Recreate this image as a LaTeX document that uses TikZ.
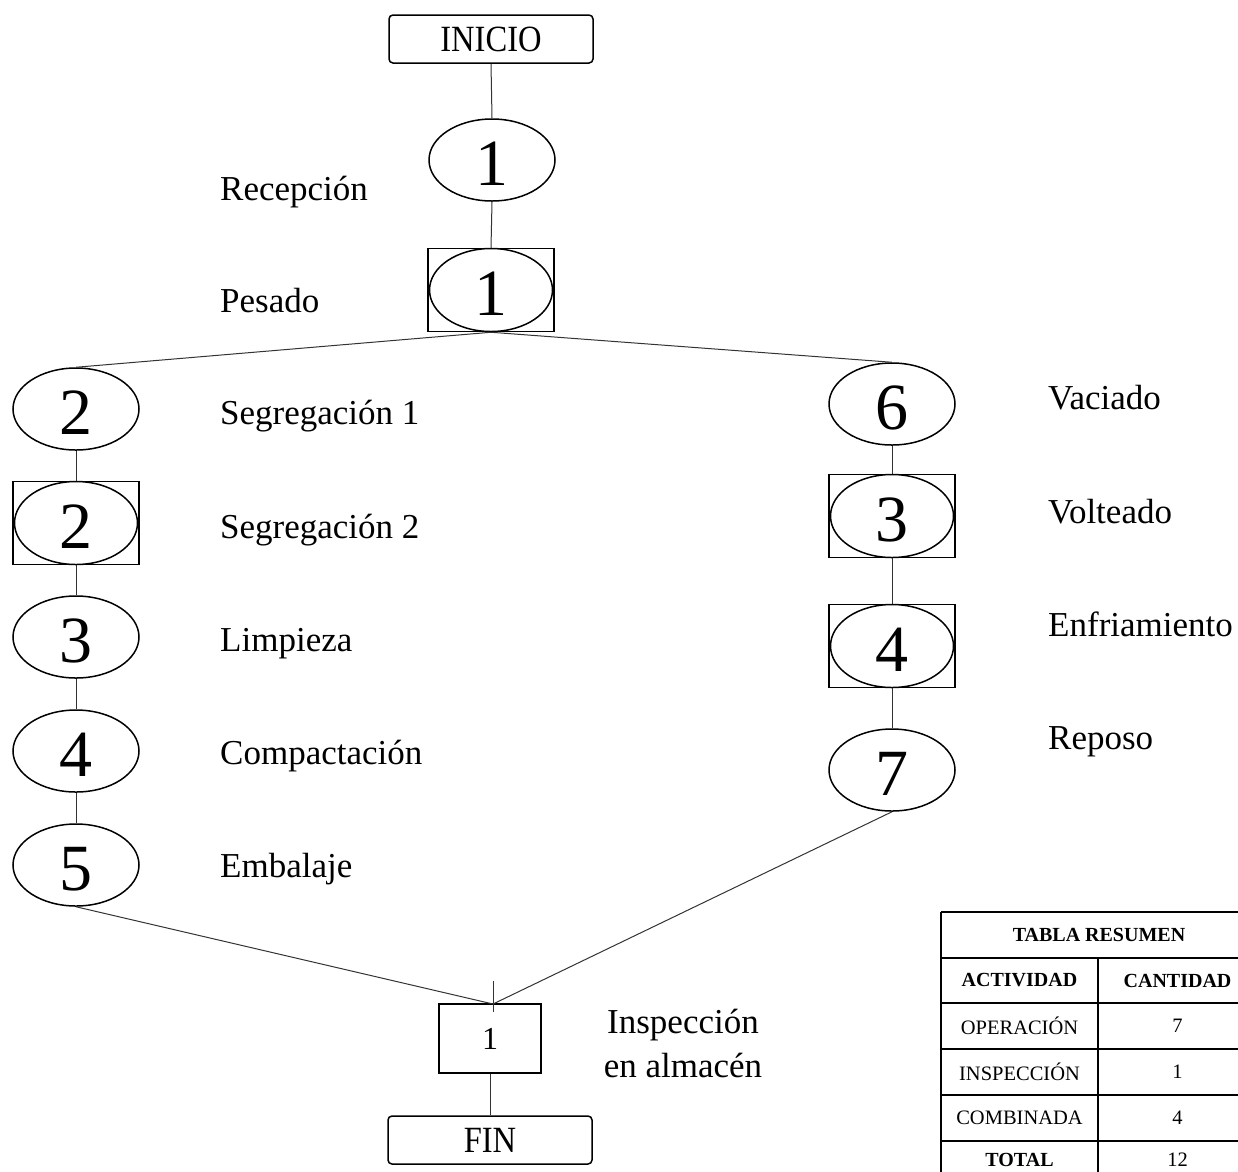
\documentclass[tikz,border=0pt]{standalone}
\usepackage{fontspec}
\setmainfont{Liberation Serif}
\usetikzlibrary{shapes.geometric}
\begin{document}
\begin{tikzpicture}[x=1pt,y=-1pt,
  shape line/.style={line width=1.5pt,draw=black},
  conn/.style={line width=1pt,draw=black!80},
  oper/.style={shape line,ellipse,minimum width=126pt,minimum height=82pt,inner sep=0pt,text height=51pt,text depth=0pt,font=\fontsize{66}{66}\selectfont},
  combobox/.style={shape line,rectangle,minimum width=126pt,minimum height=83pt,inner sep=0pt,text height=51pt,text depth=0pt,font=\fontsize{66}{66}\selectfont},
  comboell/.style={shape line,ellipse,minimum width=123pt,minimum height=83pt,inner sep=0pt},
  termbox/.style={shape line,rectangle,rounded corners=4pt,minimum width=204pt,minimum height=48pt,inner sep=0pt,font=\fontsize{37}{37}\selectfont},
  inspbox/.style={shape line,rectangle,minimum width=102pt,minimum height=69pt,inner sep=0pt,font=\fontsize{32}{32}\selectfont},
  lbl/.style={anchor=base west,inner sep=0pt,font=\fontsize{35}{35}\selectfont},
  tline/.style={line width=1.5pt},
  thead/.style={font=\fontsize{20}{20}\selectfont\bfseries,inner sep=0pt},
  tcell/.style={font=\fontsize{20.5}{20.5}\selectfont,inner sep=0pt}
]
\useasboundingbox (0,0) rectangle (1238,1171);
\clip (0,0) rectangle (1238,1171);

% terminals
\node[termbox] (ini) at (491,39) {\scalebox{0.88}[1]{INICIO}};
\node[termbox] (fin) at (490,1140) {\scalebox{0.88}[1]{FIN}};

% center column
\node[oper] (o1) at (492,160) {1};
\node[comboell] (c1e) at (491,290) {};
\node[combobox] (c1) at (491,290) {1};

% left column
\node[oper] (o2) at (76,409) {2};
\node[comboell] (c2e) at (76,523) {};
\node[combobox] (c2) at (76,523) {2};
\node[oper] (o3) at (76,637) {3};
\node[oper] (o4) at (76,751) {4};
\node[oper] (o5) at (76,865) {5};

% right column
\node[oper] (o6) at (892,404) {6};
\node[comboell] (c3e) at (892,516) {};
\node[combobox] (c3) at (892,516) {3};
\node[comboell] (c4e) at (892,646) {};
\node[combobox] (c4) at (892,646) {4};
\node[oper] (o7) at (892,770) {7};

% inspection
\node[inspbox] (i1) at (490,1038.5) {1};
\coordinate (J) at (493,1004);
\coordinate (tickA) at (493,981);
\coordinate (tickB) at (493,1012);

% connectors
\draw[conn] (ini.south) -- (o1.north);
\draw[conn] (o1.south) -- (c1.north);
\draw[conn] (c1.south) -- (o2.north);
\draw[conn] (c1.south) -- (o6.north);
\draw[conn] (o2.south) -- (c2.north);
\draw[conn] (c2.south) -- (o3.north);
\draw[conn] (o3.south) -- (o4.north);
\draw[conn] (o4.south) -- (o5.north);
\draw[conn] (o6.south) -- (c3.north);
\draw[conn] (c3.south) -- (c4.north);
\draw[conn] (c4.south) -- (o7.north);
\draw[conn] (o5.south) -- (J);
\draw[conn] (o7.south) -- (J);
\draw[conn] (tickA) -- (tickB);
\draw[conn] (i1.south) -- (fin.north);

% labels
\node[lbl] (lRec) at (220,200) {Recepción};
\node[lbl] (lPes) at (220,312) {Pesado};
\node[lbl] (lSe1) at (220,424) {Segregación 1};
\node[lbl] (lSe2) at (220,538) {Segregación 2};
\node[lbl] (lLim) at (220,651) {Limpieza};
\node[lbl] (lCom) at (220,764) {Compactación};
\node[lbl] (lEmb) at (220,877) {Embalaje};
\node[lbl] (lVac) at (1048,409) {Vaciado};
\node[lbl] (lVol) at (1048,523) {Volteado};
\node[lbl] (lEnf) at (1048,636) {Enfriamiento};
\node[lbl] (lRep) at (1048,749) {Reposo};
\node[anchor=base,inner sep=0pt,font=\fontsize{35}{35}\selectfont] (lIns1) at (683,1033) {Inspección};
\node[anchor=base,inner sep=0pt,font=\fontsize{35}{35}\selectfont] (lIns2) at (683,1077) {en almacén};

% summary table
\draw[tline] (941,912) -- (1257,912);
\draw[tline] (941,912) -- (941,1180);
\draw[tline] (1257,912) -- (1257,1180);
\draw[tline] (1098,958) -- (1098,1180);
\draw[tline] (941,958) -- (1257,958);
\draw[tline] (941,1003) -- (1257,1003);
\draw[tline] (941,1049) -- (1257,1049);
\draw[tline] (941,1095) -- (1257,1095);
\draw[tline] (941,1141) -- (1257,1141);
\node[thead] (tT) at (1099,935) {TABLA RESUMEN};
\node[thead] (tA) at (1019.5,980.5) {ACTIVIDAD};
\node[thead] (tC) at (1177.5,980.5) {CANTIDAD};
\node[tcell] (r1a) at (1019.5,1026) {OPERACIÓN};
\node[tcell] (r1b) at (1177.5,1026) {7};
\node[tcell] (r2a) at (1019.5,1072) {INSPECCIÓN};
\node[tcell] (r2b) at (1177.5,1072) {1};
\node[tcell] (r3a) at (1019.5,1118) {COMBINADA};
\node[tcell] (r3b) at (1177.5,1118) {4};
\node[thead] (r4a) at (1019.5,1160) {TOTAL};
\node[tcell] (r4b) at (1177.5,1160) {12};
\end{tikzpicture}
\end{document}
